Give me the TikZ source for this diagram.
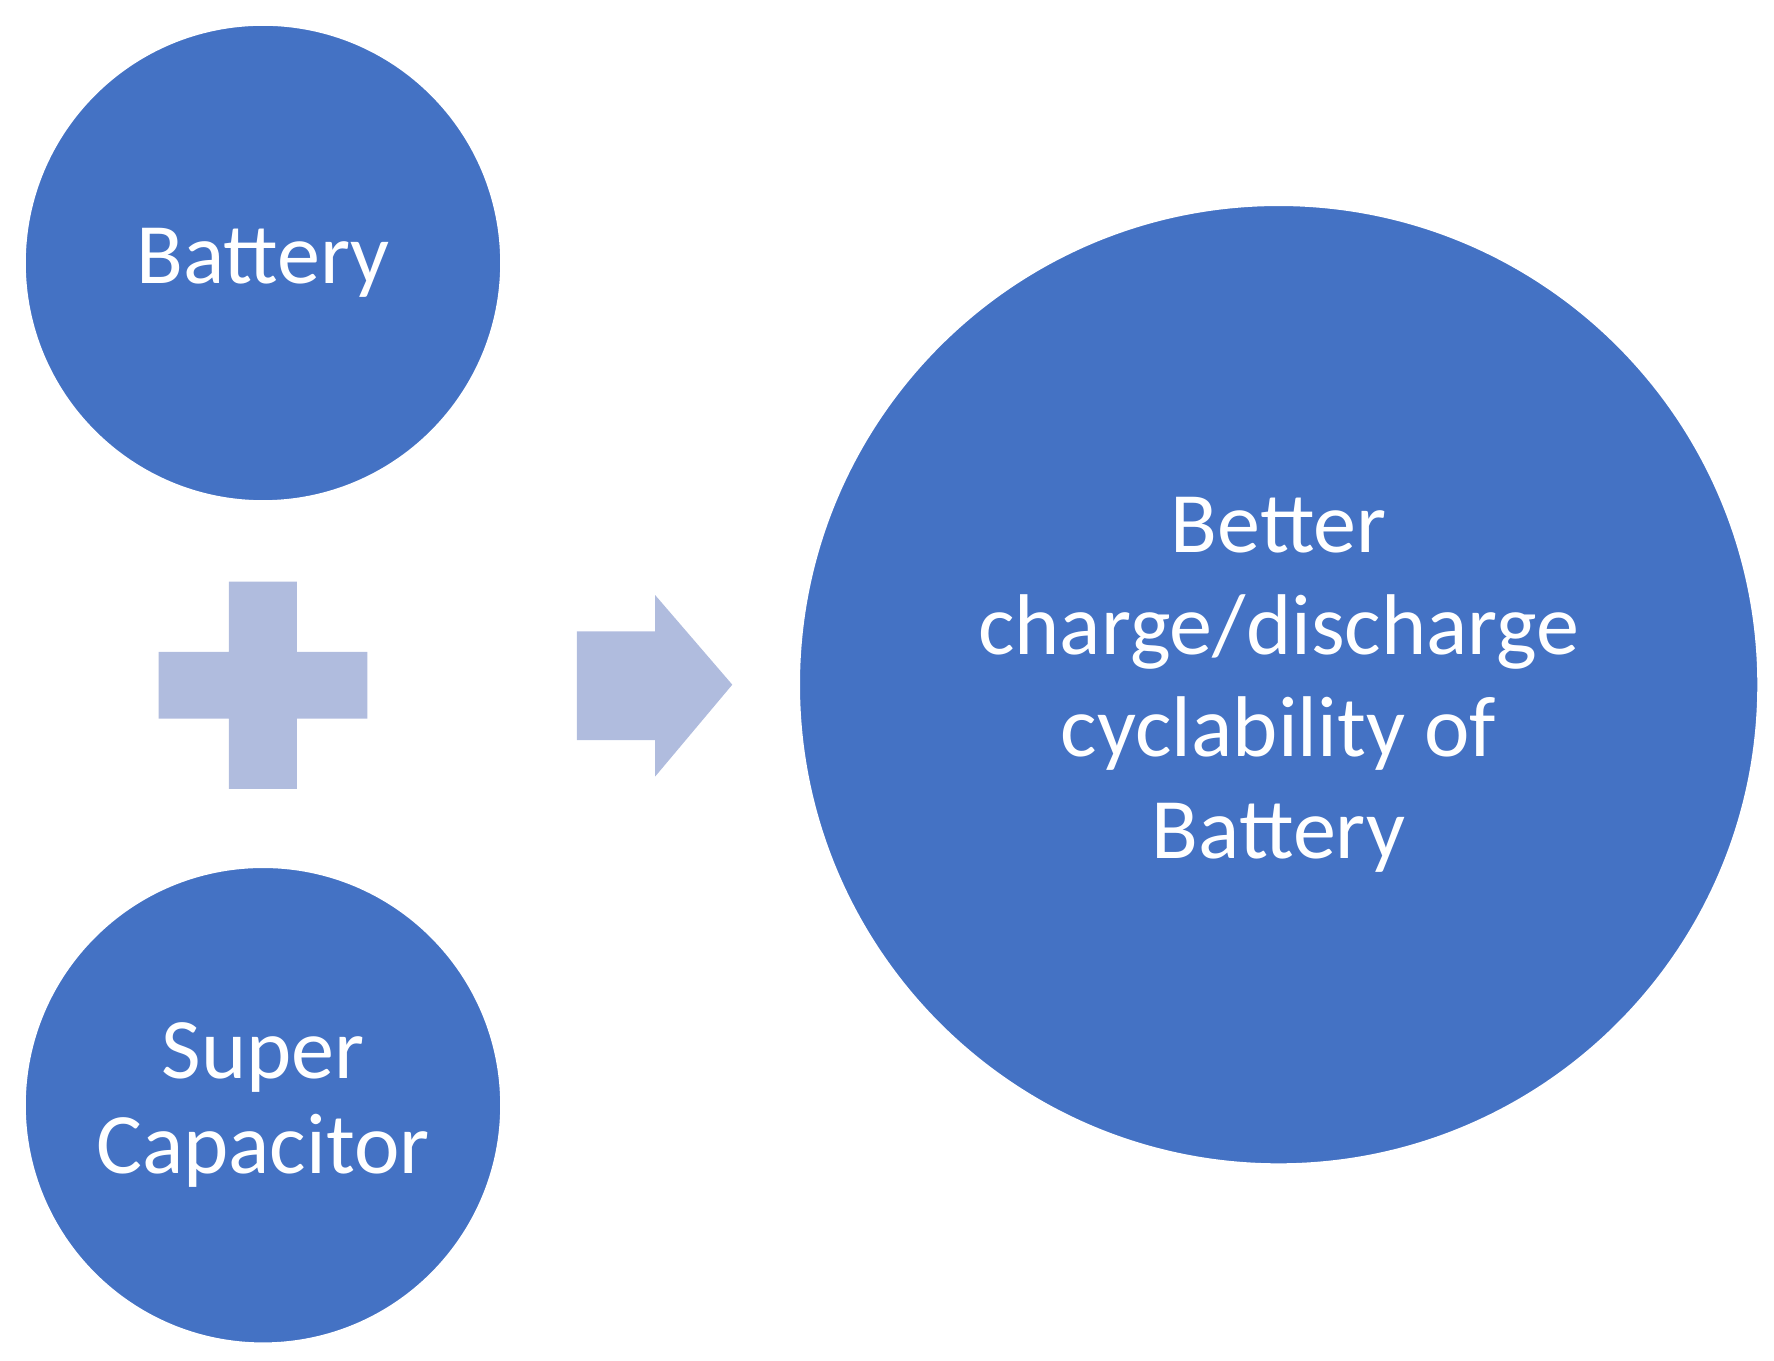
\documentclass[tikz,border=0pt]{standalone}
\usepackage{fontspec}
\setmainfont{Carlito}
\definecolor{cblue}{HTML}{4472C4}
\definecolor{clight}{HTML}{B0BCDE}
\begin{document}
\begin{tikzpicture}[x=1pt,y=-1pt,
  circ/.style={circle,fill=cblue,draw=white,line width=1.5pt,text=white,align=center,inner sep=0pt,font=\fontsize{76}{84}\selectfont},
  light/.style={fill=clight,draw=none}]
\useasboundingbox (0,0) rectangle (1565,1200);
\node[circ,minimum size=420pt] (bat) at (232,232) {Battery};
\node[circ,minimum size=420pt] (sc) at (232,975) {Super\\Capacitor};
\node[circ,minimum size=846pt,font=\fontsize{76}{90}\selectfont] (res) at (1128,604) {Better\\charge/discharge\\cyclability of\\Battery};
\path[light] (202,513) -- (262,513) -- (262,575) -- (324,575) -- (324,634) -- (262,634) -- (262,696) -- (202,696) -- (202,634) -- (140,634) -- (140,575) -- (202,575) -- cycle;
\path[light] (509,557) -- (578,557) -- (578,525) -- (646,604) -- (578,685) -- (578,653) -- (509,653) -- cycle;
\end{tikzpicture}
\end{document}
